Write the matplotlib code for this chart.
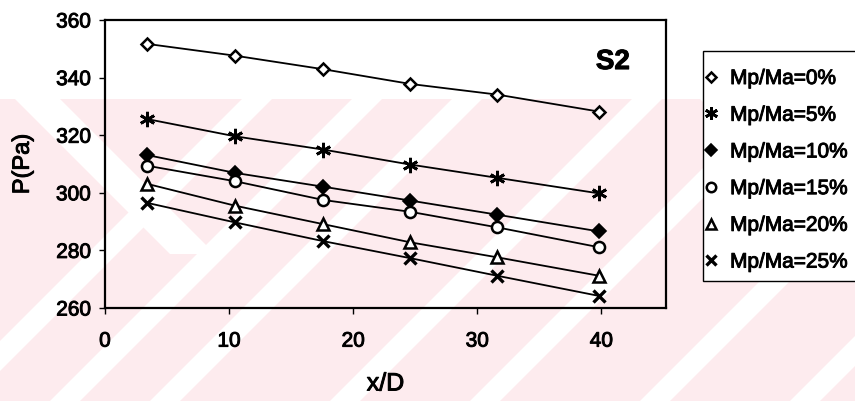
import matplotlib.pyplot as plt
import matplotlib.patheffects as pe
from matplotlib.patches import Polygon, Rectangle
from matplotlib.lines import Line2D

plt.rcParams['font.family'] = ['Liberation Sans', 'DejaVu Sans']

# x/D stations and static pressure for each particle loading
x_d = [3.4, 10.5, 17.6, 24.6, 31.6, 39.8]
labels = ['Mp/Ma=0%', 'Mp/Ma=5%', 'Mp/Ma=10%', 'Mp/Ma=15%', 'Mp/Ma=20%', 'Mp/Ma=25%']
p_0 = [351.7, 347.6, 342.9, 337.8, 334.1, 328.2]
p_5 = [325.6, 319.6, 315.0, 309.8, 305.2, 299.8]
p_10 = [313.1, 306.9, 302.1, 297.3, 292.4, 286.6]
p_15 = [309.4, 304.0, 297.5, 293.4, 288.0, 281.1]
p_20 = [303.1, 295.5, 289.1, 282.8, 277.6, 271.2]
p_25 = [296.5, 289.7, 283.2, 277.3, 271.2, 264.2]
series = [p_0, p_5, p_10, p_15, p_20, p_25]

x_ticks = [0, 10, 20, 30, 40]
y_ticks = [260, 280, 300, 320, 340, 360]

# marker styles: open diamond, asterisk, filled diamond, open circle, open triangle, cross
styles = [
    dict(marker='D', ms=6.5, mfc='white', mew=1.8),
    dict(marker=(6, 2, 0), ms=11, mfc='black', mew=2.0),
    dict(marker='D', ms=7, mfc='black', mew=1.2),
    dict(marker='o', ms=8, mfc='white', mew=1.8),
    dict(marker='^', ms=8, mfc='white', mew=1.8),
    dict(marker='x', ms=9, mfc='black', mew=2.4),
]

W, H = 855, 402
fig = plt.figure(figsize=(W / 100, H / 100), dpi=100)
fig.patch.set_facecolor('white')
heavy = [pe.withStroke(linewidth=0.7, foreground='black')]


def px_poly(pts, color):
    # polygon given in pixel coordinates measured from the top-left corner
    xy = [(x / W, 1 - y / H) for x, y in pts]
    fig.patches.append(Polygon(xy, closed=True, transform=fig.transFigure,
                               facecolor=color, edgecolor='none', zorder=-10))


# light background stamp
pink = '#fdebee'
px_poly([(0, 100), (W, 100), (W, H), (0, H)], pink)
band = 30
for x0 in [-60, 50, 150, 330, 470, 640, 790]:
    px_poly([(x0, H), (x0 + band, H), (x0 + band + 302, 100), (x0 + 302, 100)], 'white')
for x0 in [15, 700]:
    px_poly([(x0, 100), (x0 + 45, 100), (x0 + 200, 255), (x0 + 155, 255)], 'white')

ax = fig.add_axes([105 / W, 1 - 309 / H, (666 - 105) / W, (309 - 21) / H])
ax.patch.set_alpha(0)

for y, lab, st in zip(series, labels, styles):
    ax.plot(x_d, y, color='black', lw=1.3, mec='black', label=lab, **st)

ax.set_xlim(0, 45.2)
ax.set_ylim(260, 360)
ax.set_xticks(x_ticks)
ax.set_yticks(y_ticks)
ax.tick_params(axis='both', labelsize=15, length=4, width=1, direction='out')
ax.tick_params(axis='x', pad=13)
ax.tick_params(axis='y', pad=6)
for s in ax.spines.values():
    s.set_linewidth(1.6)
for t in ax.get_xticklabels() + ax.get_yticklabels():
    t.set_path_effects(heavy)

ax.set_xlabel('x/D', fontsize=18, labelpad=15, path_effects=heavy)
ax.set_ylabel('P(Pa)', fontsize=17, labelpad=16, path_effects=heavy)
ax.text(42.3, 345.4, 'S2', fontsize=20, fontweight='bold', ha='right', va='center',
        path_effects=heavy)

# legend box, open on the right edge
fig.patches.append(Rectangle((703 / W, 1 - 282 / H), 200 / W, 230 / H,
                             transform=fig.transFigure, facecolor='white',
                             edgecolor='black', lw=1.0, zorder=1))
handles = [Line2D([], [], ls='none', color='black', mec='black',
                  **dict(st, ms=st['ms'] * 0.85)) for st in styles]
leg = fig.legend(handles, labels, loc='upper left', bbox_to_anchor=(703 / W, 1 - 70 / H),
                 fontsize=15, frameon=False, handlelength=0.8,
                 handletextpad=0.5, labelspacing=0.85, borderpad=0, borderaxespad=0)
for t in leg.get_texts():
    t.set_path_effects(heavy)

fig.savefig('out.png', dpi=100)
